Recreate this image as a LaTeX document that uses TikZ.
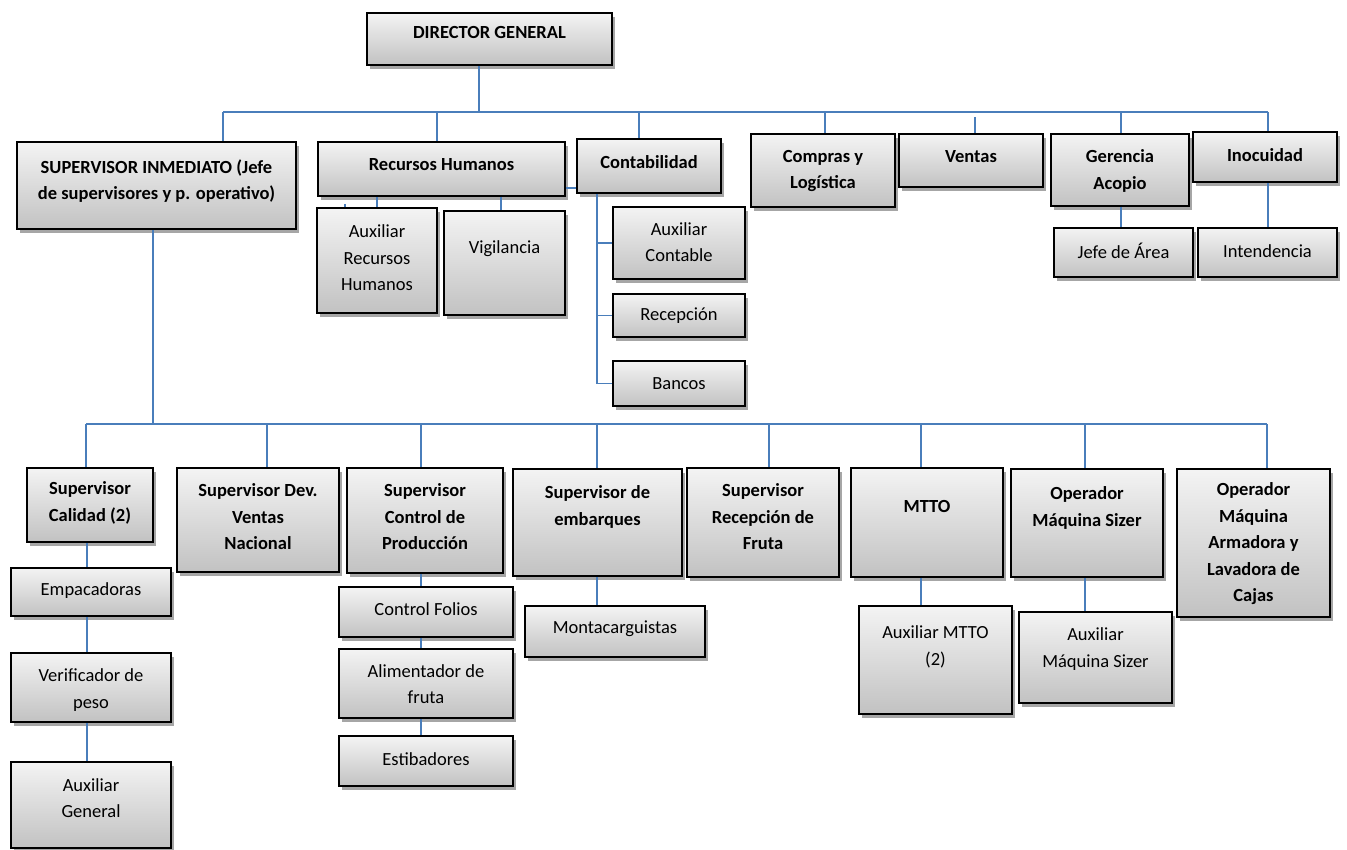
\documentclass[tikz,border=0pt]{standalone}
\usepackage{fontspec}
\setmainfont{Carlito}
\usetikzlibrary{shadows}
\definecolor{linkblue}{HTML}{4A7EBB}
\tikzset{
  orgbox/.style={draw=black, line width=1.6pt, top color=gray!9, bottom color=gray!48,
    inner sep=0pt, drop shadow={shadow xshift=3pt, shadow yshift=-4pt, opacity=0.35, fill=black}},
  hdtext/.style={align=center, inner sep=0pt, font=\fontsize{18.5}{26.5}\selectfont\bfseries},
  subtext/.style={align=center, inner sep=0pt, font=\fontsize{18.5}{26.5}\selectfont},
  conn/.style={draw=linkblue, line width=1.5pt}
}
% #1 name, #2-#5 corners (x1,y1,x2,y2), #6 text centre y, #7 text, #8 text style
\newcommand\orgnode[8]{%
  \pgfmathsetmacro\bxw{#4-#2}\pgfmathsetmacro\bxh{#5-#3}%
  \pgfmathsetmacro\bxc{(#2+#4)/2}\pgfmathsetmacro\byc{(#3+#5)/2}%
  \node[orgbox, minimum width=\bxw pt, minimum height=\bxh pt] (#1) at (\bxc,\byc) {};
  \node[#8] (#1-t) at (\bxc,#6) {#7};}
\begin{document}
\begin{tikzpicture}[x=1pt, y=-1pt]
\useasboundingbox (0,0) rectangle (1347,850);

% ---- bus coordinates
\coordinate (b-dg) at (479,112);
\coordinate (b-sup) at (223,112);
\coordinate (b-rh) at (437,112);
\coordinate (b-cont) at (639,112);
\coordinate (b-comp) at (825,112);
\coordinate (b-ven) at (975,117);
\coordinate (b-ger) at (1121,112);
\coordinate (b-inoc) at (1268,112);
\coordinate (k-auxrh) at (377,200);
\coordinate (k-vig) at (501,200);
\coordinate (k-stub) at (345,204);
\coordinate (k-rc) at (571,188);
\coordinate (k-cs) at (597,200);
\coordinate (l-sup) at (153,424);
\coordinate (l-cal) at (86,424);
\coordinate (l-dev) at (267,424);
\coordinate (l-prod) at (421,424);
\coordinate (l-emb) at (597,424);
\coordinate (l-rec) at (769,424);
\coordinate (l-mtto) at (921,424);
\coordinate (l-siz) at (1085,424);
\coordinate (l-arm) at (1267,424);
\coordinate (k-cal) at (87,424);

% ---- connectors (drawn first, boxes on top)
\draw[conn] (b-sup) -- (b-inoc);
\draw[conn] (l-cal) -- (l-arm);

% ---- boxes: top level
\orgnode{dg}{367}{13}{612}{65}{33}{DIRECTOR GENERAL}{hdtext}
\orgnode{sup}{17}{142}{296}{229}{181}{SUPERVISOR INMEDIATO (Jefe\\de supervisores y p. operativo)}{hdtext}
\orgnode{rh}{318}{142}{565}{196}{165}{Recursos Humanos}{hdtext}
\orgnode{cont}{577}{139}{721}{193}{162}{Contabilidad}{hdtext}
\orgnode{comp}{751}{134}{895}{207}{171}{Compras y\\Logística}{hdtext}
\orgnode{ven}{899}{134}{1043}{187}{157}{Ventas}{hdtext}
\orgnode{ger}{1051}{134}{1189}{206}{171}{Gerencia\\Acopio}{hdtext}
\orgnode{inoc}{1193}{132}{1337}{182}{155}{Inocuidad}{hdtext}
\orgnode{jefe}{1054}{228}{1193}{277}{251}{Jefe de Área}{subtext}
\orgnode{intend}{1198}{228}{1337}{277}{251}{Intendencia}{subtext}
\orgnode{auxrh}{317}{208}{437}{313}{258}{Auxiliar\\Recursos\\Humanos}{subtext}
\orgnode{vig}{444}{211}{565}{315}{249}{Vigilancia}{subtext}
\orgnode{auxc}{613}{207}{745}{279}{242}{Auxiliar\\Contable}{subtext}
\orgnode{recep}{613}{294}{745}{337}{316}{Recepción}{subtext}
\orgnode{bancos}{613}{361}{745}{406}{384}{Bancos}{subtext}

% ---- boxes: operations level
\orgnode{cal}{27}{468}{153}{542}{503}{Supervisor\\Calidad (2)}{hdtext}
\orgnode{dev}{177}{468}{339}{572}{517}{Supervisor Dev.\\Ventas\\Nacional}{hdtext}
\orgnode{prod}{347}{468}{503}{573}{517}{Supervisor\\Control de\\Producción}{hdtext}
\orgnode{emb}{513}{469}{682}{576}{507}{Supervisor de\\embarques}{hdtext}
\orgnode{rec}{687}{468}{839}{577}{517}{Supervisor\\Recepción de\\Fruta}{hdtext}
\orgnode{mtto}{851}{468}{1003}{577}{506}{MTTO}{hdtext}
\orgnode{siz}{1011}{469}{1163}{577}{508}{Operador\\Máquina Sizer}{hdtext}
\orgnode{arm}{1177}{469}{1330}{617}{544}{Operador\\Máquina\\Armadora y\\Lavadora de\\Cajas}{hdtext}
\orgnode{emp}{11}{568}{171}{616}{591}{Empacadoras}{subtext}
\orgnode{ver}{11}{653}{171}{722}{690}{Verificador de\\peso}{subtext}
\orgnode{auxg}{11}{762}{171}{848}{798}{Auxiliar\\General}{subtext}
\orgnode{folios}{339}{587}{513}{637}{609}{Control Folios}{subtext}
\orgnode{alim}{339}{649}{513}{718}{684}{Alimentador de\\fruta}{subtext}
\orgnode{estib}{339}{736}{513}{786}{759}{Estibadores}{subtext}
\orgnode{mont}{525}{606}{705}{657}{629}{Montacarguistas}{subtext}
\orgnode{auxm}{859}{606}{1012}{714}{647}{Auxiliar MTTO\\(2)}{subtext}
\orgnode{auxs}{1019}{612}{1172}{703}{649}{Auxiliar\\Máquina Sizer}{subtext}

% ---- drops from the top bus
\draw[conn] (b-dg |- dg.south) -- (b-dg);
\draw[conn] (b-sup) -- (b-sup |- sup.north);
\draw[conn] (b-rh) -- (b-rh |- rh.north);
\draw[conn] (b-cont) -- (b-cont |- cont.north);
\draw[conn] (b-comp) -- (b-comp |- comp.north);
\draw[conn] (b-ven) -- (b-ven |- ven.north);
\draw[conn] (b-ger) -- (b-ger |- ger.north);
\draw[conn] (b-inoc) -- (b-inoc |- inoc.north);
\draw[conn] (b-ger |- ger.south) -- (b-ger |- jefe.north);
\draw[conn] (b-inoc |- inoc.south) -- (b-inoc |- intend.north);

% ---- human resources and accounting
\draw[conn] (k-auxrh |- rh.south) -- (k-auxrh |- auxrh.north);
\draw[conn] (k-vig |- rh.south) -- (k-vig |- vig.north);
\draw[conn] (k-stub) -- (k-stub |- auxrh.north);
\draw[conn] (k-rc -| rh.east) -- (k-rc -| cont.west);
\draw[conn] (k-cs |- cont.south) -- (k-cs |- bancos.west);
\draw[conn] (k-cs |- auxc.west) -- (auxc.west);
\draw[conn] (k-cs |- recep.west) -- (recep.west);
\draw[conn] (k-cs |- bancos.west) -- (bancos.west);

% ---- operations bus
\draw[conn] (l-sup |- sup.south) -- (l-sup);
\draw[conn] (l-cal) -- (l-cal |- cal.north);
\draw[conn] (l-dev) -- (l-dev |- dev.north);
\draw[conn] (l-prod) -- (l-prod |- prod.north);
\draw[conn] (l-emb) -- (l-emb |- emb.north);
\draw[conn] (l-rec) -- (l-rec |- rec.north);
\draw[conn] (l-mtto) -- (l-mtto |- mtto.north);
\draw[conn] (l-siz) -- (l-siz |- siz.north);
\draw[conn] (l-arm) -- (l-arm |- arm.north);

% ---- operations chains
\draw[conn] (k-cal |- cal.south) -- (k-cal |- emp.north);
\draw[conn] (k-cal |- emp.south) -- (k-cal |- ver.north);
\draw[conn] (k-cal |- ver.south) -- (k-cal |- auxg.north);
\draw[conn] (l-prod |- prod.south) -- (l-prod |- folios.north);
\draw[conn] (l-prod |- folios.south) -- (l-prod |- alim.north);
\draw[conn] (l-prod |- alim.south) -- (l-prod |- estib.north);
\draw[conn] (l-emb |- emb.south) -- (l-emb |- mont.north);
\draw[conn] (l-mtto |- mtto.south) -- (l-mtto |- auxm.north);
\draw[conn] (l-siz |- siz.south) -- (l-siz |- auxs.north);
\end{tikzpicture}
\end{document}
